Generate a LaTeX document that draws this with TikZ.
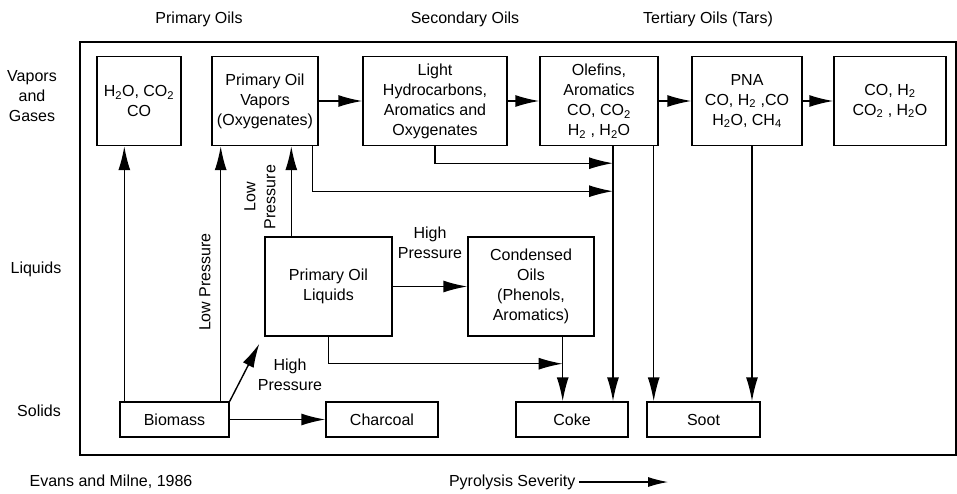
\documentclass[tikz,border=0pt]{standalone}
\usepackage{fontspec}
\setmainfont{Liberation Sans}
\usetikzlibrary{arrows.meta,positioning}
\tikzset{%
  >={Latex[width=12pt,length=24pt]},
  % Specifications for style of nodes:
         base/.style = {rectangle, draw=black, align=center, inner sep=1pt,
                        font=\fontsize{16}{20}\selectfont},
       vapbox/.style = {base, minimum height=89pt},
       liqbox/.style = {base, minimum height=99pt},
       solbox/.style = {base, minimum height=35pt},
          txt/.style = {align=center, font=\fontsize{16}{20}\selectfont},
}

\begin{document}
\begin{tikzpicture}[x=1pt, y=-1pt, line width=1.4pt]
  \useasboundingbox (0,0) rectangle (957,493);
  % frame
  \draw (80,42) rectangle (956,455);
  % Specification of nodes (position, etc.)
  \node (headA)     [txt] at (199,19)  {Primary Oils};
  \node (headB)     [txt] at (465,19)  {Secondary Oils};
  \node (headC)     [txt] at (708,19)  {Tertiary Oils (Tars)};
  \node (rowGas)    [txt] at (32,96)   {Vapors\\and\\Gases};
  \node (rowLiq)    [txt] at (36,269)  {Liquids};
  \node (rowSol)    [txt] at (39,411)  {Solids};
  \node (gasA)      [vapbox, minimum width=84pt]  at (139,101)
                                     {H\textsubscript{2}O, CO\textsubscript{2}\\CO};
  \node (vapors)    [vapbox, minimum width=106pt] at (265,101)
                                     {Primary Oil\\Vapors\\(Oxygenates)};
  \node (light)     [vapbox, minimum width=144pt] at (435,101)
                                     {Light\\Hydrocarbons,\\Aromatics and\\Oxygenates};
  \node (olefins)   [vapbox, minimum width=118pt] at (599,101)
                                     {Olefins,\\Aromatics\\CO, CO\textsubscript{2}\\H\textsubscript{2} , H\textsubscript{2}O};
  \node (pna)       [vapbox, minimum width=110pt] at (747,101)
                                     {PNA\\CO, H\textsubscript{2} ,CO\\H\textsubscript{2}O, CH\textsubscript{4}};
  \node (gasB)      [vapbox, minimum width=112pt] at (890,101)
                                     {CO, H\textsubscript{2}\\CO\textsubscript{2} , H\textsubscript{2}O};
  \node (liquids)   [liqbox, minimum width=127pt] at (328.5,286.5)
                                     {Primary Oil\\Liquids};
  \node (condensed) [liqbox, minimum width=126pt] at (531,286.5)
                                     {Condensed\\Oils\\(Phenols,\\Aromatics)};
  \node (biomass)   [solbox, minimum width=109pt] at (174.5,419.5) {Biomass};
  \node (charcoal)  [solbox, minimum width=112pt] at (382,419.5)   {Charcoal};
  \node (coke)      [solbox, minimum width=112pt] at (572,419.5)   {Coke};
  \node (soot)      [solbox, minimum width=113pt] at (703.5,419.5) {Soot};
  \node (lowA)      [txt, rotate=90] at (205,282) {Low Pressure};
  \node (lowB)      [txt, rotate=90] at (260,197) {Low\\Pressure};
  \node (highA)     [txt] at (290,375) {High\\Pressure};
  \node (highB)     [txt] at (430,243) {High\\Pressure};
  \node (source)    [txt] at (111,482) {Evans and Milne, 1986};
  \node (severity)  [txt, anchor=west] at (445,482) {Pyrolysis Severity};
  \coordinate (sevEnd) at (668,482);
  % drop points for the vertical lines
  \coordinate (bmA) at ([xshift=5pt]biomass.north west);
  \coordinate (bmB) at ([xshift=-9pt]biomass.north east);
  \coordinate (lqA) at ([xshift=27pt]liquids.north west);
  \coordinate (olA) at ([xshift=14pt]olefins.south);
  \coordinate (olB) at ([xshift=-5pt]olefins.south east);
  \coordinate (pnA) at ([xshift=5pt]pna.south);
  \coordinate (cdA) at ([xshift=-32pt]condensed.south east);
  % Specification of lines between nodes specified above
  \draw[->]    (vapors) -- (light);
  \draw[->]     (light) -- (olefins);
  \draw[->]   (olefins) -- (pna);
  \draw[->]       (pna) -- (gasB);
  \draw[->]       (bmA) -- (bmA |- gasA.south);
  \draw[->]       (bmB) -- (bmB |- vapors.south);
  \draw[->]       (lqA) -- (lqA |- vapors.south);
  \draw[->] (biomass.north east) -- ([shift={(-5pt,-7pt)}]liquids.south west);
  \draw[->]   (biomass) -- (charcoal);
  \draw[->]   (liquids) -- (condensed);
  \draw[->] (liquids.south) |- ([yshift=-27pt]cdA);
  \draw[->]       (cdA) -- (cdA |- coke.north);
  \draw[->] ([xshift=-6pt]vapors.south east) |- ([yshift=-45pt]olA);
  \draw[->] (light.south) |- ([yshift=-17pt]olA);
  \draw[->]       (olA) -- (olA |- coke.north);
  \draw[->]       (olB) -- (olB |- soot.north);
  \draw[->]       (pnA) -- (pnA |- soot.north);
  \draw[->, line width=1.1pt, >={Latex[width=10pt,length=20pt]}] (severity) -- (sevEnd);
\end{tikzpicture}
\end{document}
